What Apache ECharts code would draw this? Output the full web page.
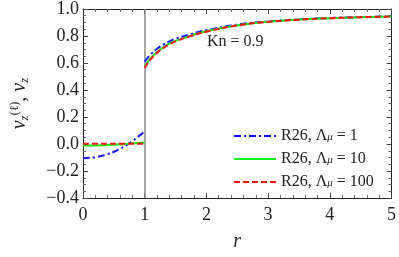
<!DOCTYPE html>
<html><head><meta charset="utf-8">
<script src="https://cdn.jsdelivr.net/npm/echarts@6/dist/echarts.min.js"></script>
<style>html,body{margin:0;padding:0;background:#fff}#c{width:399px;height:257px}</style>
</head><body><div id="c"></div>
<script>
// inner region r in [0,1]
const rIn = [0, 0.2, 0.4, 0.6, 0.8, 1.0];
const blueIn = [-0.105, -0.097, -0.075, -0.036, 0.022, 0.095];
const greenIn = [-0.012, -0.011, -0.008, -0.003, 0.003, 0.011];
const redIn = [0.002, 0.002, 0.002, 0.002, 0.002, 0.003];
// outer region r in [1,5]
const rOut = [1, 1.05, 1.1, 1.2, 1.3, 1.4, 1.5, 1.75, 2, 2.5, 3, 3.5, 4, 4.5, 5];
const blueOut = [0.61, 0.64, 0.665, 0.705, 0.735, 0.76, 0.78, 0.814, 0.843, 0.884, 0.908, 0.923, 0.933, 0.940, 0.945];
const greenOut = [0.572, 0.607, 0.638, 0.682, 0.716, 0.743, 0.764, 0.803, 0.835, 0.880, 0.906, 0.922, 0.932, 0.939, 0.944];
const redOut = [0.563, 0.60, 0.63, 0.675, 0.71, 0.738, 0.76, 0.80, 0.832, 0.878, 0.905, 0.921, 0.932, 0.939, 0.944];
const names = ['R26, Λμ = 1', 'R26, Λμ = 10', 'R26, Λμ = 100'];
const legendVals = ['1', '10', '100'];
const annotation = 'Kn = 0.9';

const FONT = 'Liberation Serif';
const pair = (xs, ys) => xs.map((x, i) => [x, ys[i]]);
const minus = v => (Math.abs(v) < 1e-9 ? '0.0' : v.toFixed(1)).replace('-', '\u2212');

function mk(name, xs, ys, color, type) {
  return {
    name, type: 'line', data: pair(xs, ys), symbol: 'none', smooth: true,
    lineStyle: { color, width: 2, type }, itemStyle: { color }, z: 3
  };
}
const blueType = [7, 3, 2, 3];
const series = [
  mk(names[0], rIn, blueIn, '#1010ff', blueType),
  mk(names[0], rOut, blueOut, '#1010ff', blueType),
  mk(names[1], rIn, greenIn, '#11ee11', 'solid'),
  mk(names[1], rOut, greenOut, '#11ee11', 'solid'),
  mk(names[2], rIn, redIn, '#ff1010', [6, 3]),
  mk(names[2], rOut, redOut, '#ff1010', [6, 3])
];
series[0].markLine = {
  silent: true, symbol: 'none', label: { show: false },
  lineStyle: { color: '#8a8a8a', width: 1.5, type: 'solid' },
  data: [{ xAxis: 1 }], z: 1
};

function axisCommon(split) {
  return {
    type: 'value',
    axisLine: { show: true, onZero: false, lineStyle: { color: '#222', width: 1 } },
    axisTick: { show: true, inside: true, length: 5, lineStyle: { color: '#444' } },
    minorTick: { show: true, splitNumber: split, length: 3, lineStyle: { color: '#666' } },
    splitLine: { show: false }
  };
}

const chart = echarts.init(document.getElementById('c'), null, { renderer: 'canvas' });
chart.setOption({
  animation: false,
  grid: { left: 81, right: 4, top: 8, bottom: 56 },
  xAxis: [
    Object.assign(axisCommon(5), {
      min: 0, max: 5, interval: 1,
      axisLabel: { fontFamily: FONT, fontSize: 18, color: '#222', margin: 8 },
      name: 'r', nameLocation: 'middle', nameGap: 34,
      nameTextStyle: { fontFamily: FONT, fontStyle: 'italic', fontSize: 20, color: '#222' }
    }),
    Object.assign(axisCommon(5), {
      position: 'top', min: 0, max: 5, interval: 1,
      axisLabel: { show: false }
    })
  ],
  yAxis: [
    Object.assign(axisCommon(4), {
      min: -0.4, max: 1.0, interval: 0.2,
      axisLabel: { fontFamily: FONT, fontSize: 18, color: '#222', margin: 4, formatter: minus },
      name: '{v|v}{sub|z}{sup|(ℓ)}{v|, v}{sub|z}', nameLocation: 'middle', nameGap: 52, nameRotate: 90,
      nameTextStyle: {
        color: '#222',
        rich: {
          v: { fontFamily: FONT, fontStyle: 'italic', fontSize: 20, color: '#222', lineHeight: 22 },
          sub: { fontFamily: FONT, fontStyle: 'italic', fontSize: 13, color: '#222', verticalAlign: 'bottom', lineHeight: 22, padding: [10, 0, 0, 0] },
          sup: { fontFamily: FONT, fontSize: 12, color: '#222', verticalAlign: 'top', lineHeight: 22, padding: [0, 0, 10, 0] }
        }
      }
    }),
    Object.assign(axisCommon(4), {
      position: 'right', min: -0.4, max: 1.0, interval: 0.2,
      axisLabel: { show: false }
    })
  ],
  legend: {
    data: names, orient: 'vertical', left: 228, top: 121,
    itemWidth: 42, itemHeight: 14, itemGap: 5,
    itemStyle: { opacity: 0 },
    textStyle: {
      fontFamily: FONT, fontSize: 16, color: '#222',
      rich: {
        a: { fontFamily: FONT, fontSize: 16, color: '#222', lineHeight: 14 },
        s: { fontFamily: FONT, fontStyle: 'italic', fontSize: 11, color: '#222', lineHeight: 14, verticalAlign: 'bottom', padding: [6, 0, 0, 0] }
      }
    },
    formatter: n => {
      const i = names.indexOf(n);
      return '{a|R26, Λ}{s|μ}{a| = ' + legendVals[i] + '}';
    }
  },
  graphic: [{
    type: 'text', left: 207, top: 34,
    style: { text: annotation, font: '16px "Liberation Serif"', fill: '#222' }
  }],
  series
});
</script></body></html>
